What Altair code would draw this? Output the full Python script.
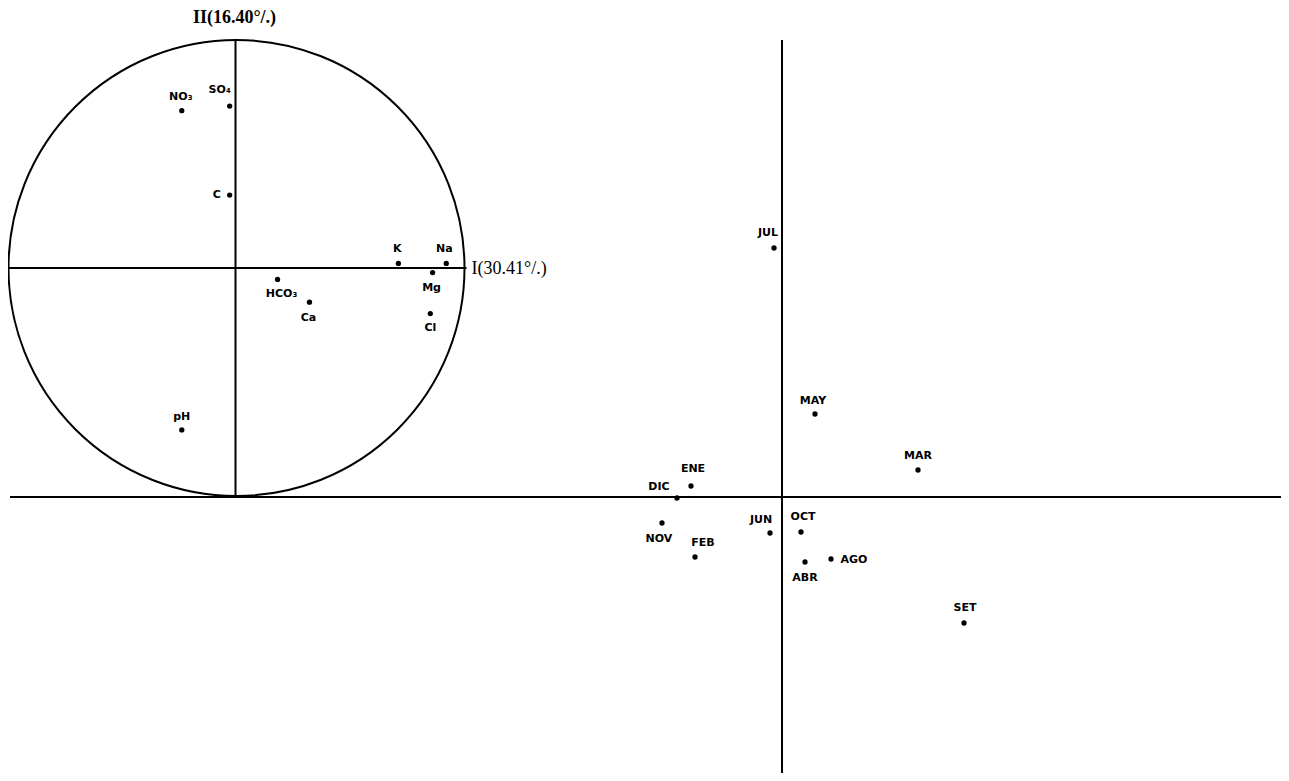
import altair as alt
import pandas as pd

# ---- data: variable loadings on factors I and II (correlation circle) ----
var_names = ["NO₃", "SO₄", "C", "K", "Na", "Mg", "HCO₃", "Ca", "Cl", "pH"]
var_f1 = [-0.24, -0.03, -0.03, 0.71, 0.92, 0.86, 0.18, 0.32, 0.85, -0.24]
var_f2 = [0.69, 0.71, 0.32, 0.02, 0.02, -0.02, -0.05, -0.15, -0.20, -0.71]

# ---- data: month scores on factors I and II ----
month_names = ["JUL", "MAY", "MAR", "ENE", "DIC", "NOV", "FEB", "JUN", "OCT", "ABR", "AGO", "SET"]
month_f1 = [-0.08, 0.33, 1.36, -0.91, -1.05, -1.20, -0.87, -0.12, 0.19, 0.23, 0.49, 1.82]
month_f2 = [2.49, 0.83, 0.27, 0.11, -0.01, -0.26, -0.60, -0.36, -0.35, -0.65, -0.62, -1.26]

axis_titles = ["II(16.40°/.)", "I(30.41°/.)"]

# ---- layout (not data) ----
PAD_L, PAD_T = 6, 6
W, H = 1267, 759
XDOM = [-7.68, 4.99]
YDOM = [-2.76, 4.83]
PX = 100.0                       # pixels per unit
CX, CY, R = -5.455, 2.29, 2.28   # circle placement in the month-score frame

var_label_off = {  # label offset in px (dx, dy downwards)
    "NO₃": (-1, -14), "SO₄": (-10, -16), "C": (-13, 0), "K": (-1, -14),
    "Na": (-2, -14), "Mg": (-1, 15), "HCO₃": (4, 15), "Ca": (-1, 16),
    "Cl": (0, 14), "pH": (0, -13),
}
month_label_off = {
    "JUL": (-6, -15), "MAY": (-2, -13), "MAR": (0, -14), "ENE": (2, -17),
    "DIC": (-18, -11), "NOV": (-3, 16), "FEB": (8, -14), "JUN": (-9, -13),
    "OCT": (2, -15), "ABR": (0, 16), "AGO": (23, 1), "SET": (1, -15),
}

vars_df = pd.DataFrame({"name": var_names, "f1": var_f1, "f2": var_f2})
vars_df["x"] = CX + R * vars_df["f1"]
vars_df["y"] = CY + R * vars_df["f2"]
vars_df["lx"] = vars_df["x"] + [var_label_off[n][0] / PX for n in var_names]
vars_df["ly"] = vars_df["y"] - [var_label_off[n][1] / PX for n in var_names]

months_df = pd.DataFrame({"name": month_names, "x": month_f1, "y": month_f2})
months_df["lx"] = months_df["x"] + [month_label_off[n][0] / PX for n in month_names]
months_df["ly"] = months_df["y"] - [month_label_off[n][1] / PX for n in month_names]

points_df = pd.concat([vars_df[["name", "x", "y", "lx", "ly"]], months_df], ignore_index=True)

axes_df = pd.DataFrame({
    "x": [-7.72, 0.0, CX - R, CX - 0.01],
    "x2": [5.0, 0.0, CX + R + 0.02, CX - 0.01],
    "y": [0.0, 4.57, CY, CY + R],
    "y2": [0.0, -2.78, CY, 0.0],
})
circle_df = pd.DataFrame({"x": [CX], "y": [CY]})
titles_df = pd.DataFrame({
    "t": axis_titles,
    "x": [CX - 0.02, CX + R + 0.07],
    "y": [4.79, CY - 0.01],
    "align": ["center", "left"],
})

xs = alt.Scale(domain=XDOM, nice=False, zero=False)
ys = alt.Scale(domain=YDOM, nice=False, zero=False)

rules = alt.Chart(axes_df).mark_rule(color="black", strokeWidth=2).encode(
    x=alt.X("x:Q", scale=xs, axis=None), x2="x2:Q",
    y=alt.Y("y:Q", scale=ys, axis=None), y2="y2:Q",
)
circle = alt.Chart(circle_df).mark_point(
    shape="circle", filled=False, size=(2 * R * PX) ** 2, color="black",
    strokeWidth=2, opacity=1,
).encode(x=alt.X("x:Q", scale=xs, axis=None), y=alt.Y("y:Q", scale=ys, axis=None))

dots = alt.Chart(points_df).mark_circle(size=28, color="black", opacity=1).encode(
    x=alt.X("x:Q", scale=xs, axis=None), y=alt.Y("y:Q", scale=ys, axis=None)
)
labels = alt.Chart(points_df).mark_text(
    font="DejaVu Sans", fontSize=11, fontWeight="bold", color="black",
    align="center", baseline="middle",
).encode(
    x=alt.X("lx:Q", scale=xs, axis=None), y=alt.Y("ly:Q", scale=ys, axis=None),
    text="name:N",
)
t_center = alt.Chart(titles_df[titles_df["align"] == "center"]).mark_text(
    font="Liberation Serif", fontSize=18, fontWeight="bold", color="black",
    align="center", baseline="middle",
).encode(x=alt.X("x:Q", scale=xs, axis=None), y=alt.Y("y:Q", scale=ys, axis=None), text="t:N")
t_left = alt.Chart(titles_df[titles_df["align"] == "left"]).mark_text(
    font="Liberation Serif", fontSize=18, color="black",
    align="left", baseline="middle",
).encode(x=alt.X("x:Q", scale=xs, axis=None), y=alt.Y("y:Q", scale=ys, axis=None), text="t:N")

chart = alt.layer(rules, circle, dots, labels, t_center, t_left).properties(
    width=W, height=H,
    padding={"left": PAD_L, "top": PAD_T, "right": 0, "bottom": 0},
    autosize=alt.AutoSizeParams(type="none"),
    background="white",
).configure_view(stroke=None)

chart.save("out.html", embed_options={"renderer": "svg", "actions": False})
